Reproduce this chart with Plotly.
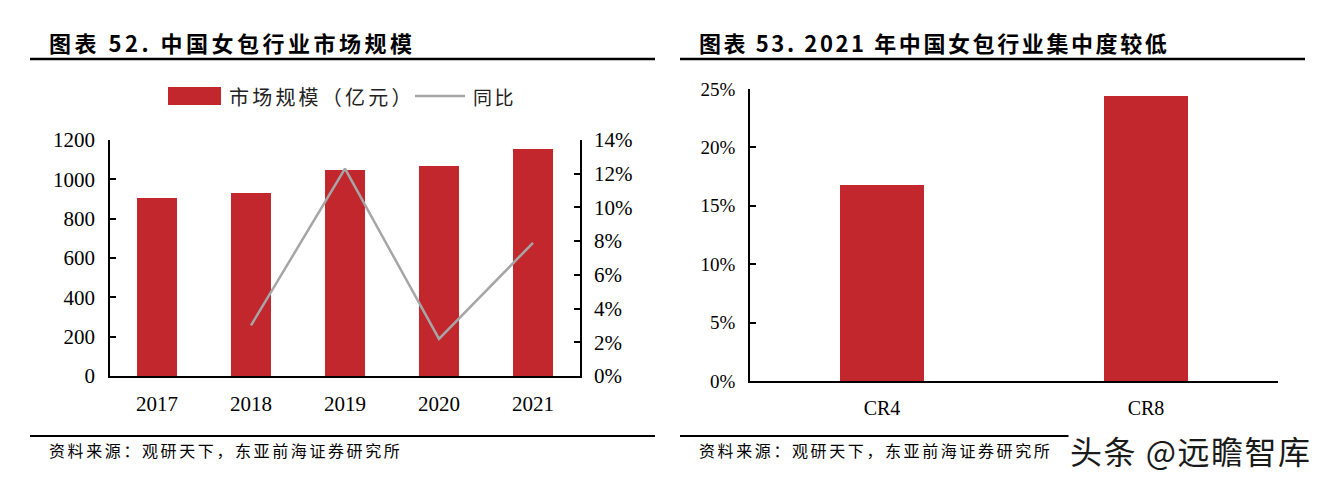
import plotly.graph_objects as go

# ---- data ----
years = ["2017", "2018", "2019", "2020", "2021"]
market_size = [905, 933, 1046, 1070, 1152]          # 市场规模（亿元）
yoy_years = ["2018", "2019", "2020", "2021"]
yoy = [0.030, 0.123, 0.022, 0.079]                 # 同比
cr_labels = ["CR4", "CR8"]
cr_values = [0.168, 0.244]

title_left = "图表 52. 中国女包行业市场规模"
title_right = "图表 53. 2021 年中国女包行业集中度较低"
source_text = "资料来源：观研天下，东亚前海证券研究所"
legend_bar = "市场规模（亿元）"
legend_line = "同比"
watermark = "头条 @远瞻智库"

# ---- style ----
W, H = 1326, 481
RED = "#C1272D"
GREY = "#A6A6A6"
SERIF = "Liberation Serif, Times New Roman, serif"
CJK = "Noto Sans CJK SC, sans-serif"


def px(x):
    return x / W


def py(y):
    return 1 - y / H


def spaced(text, sp):
    return '<span style="letter-spacing:%spx">%s</span>' % (sp, text)


fig = go.Figure()
fig.add_trace(go.Bar(x=years, y=market_size, marker=dict(color=RED, line=dict(width=0)),
                     width=0.43, xaxis="x", yaxis="y", showlegend=False))
fig.add_trace(go.Scatter(x=yoy_years, y=yoy, mode="lines", line=dict(color=GREY, width=2.5),
                         xaxis="x", yaxis="y2", showlegend=False))
fig.add_trace(go.Bar(x=cr_labels, y=cr_values, marker=dict(color=RED, line=dict(width=0)),
                     width=0.32, xaxis="x2", yaxis="y3", showlegend=False))

axis_common = dict(showline=True, linecolor="black", linewidth=1.6, showgrid=False,
                   zeroline=False, mirror=False, automargin=False)

fig.update_layout(
    width=W, height=H, autosize=False,
    margin=dict(l=0, r=0, t=0, b=0, pad=0, autoexpand=False),
    paper_bgcolor="white", plot_bgcolor="white",
    bargap=0,
    xaxis=dict(domain=[px(110), px(580)], anchor="y", type="category", range=[-0.5, 4.5],
               ticks="", tickfont=dict(family=SERIF, size=21, color="black"),
               ticklabelstandoff=8, **axis_common),
    yaxis=dict(domain=[py(376), py(140)], anchor="x", range=[0, 1200], dtick=200,
               ticks="inside", ticklen=6, tickcolor="black", tickwidth=1.5,
               tickfont=dict(family=SERIF, size=21, color="black"),
               ticklabelstandoff=9, **axis_common),
    yaxis2=dict(overlaying="y", side="right", anchor="x", range=[0, 0.14], dtick=0.02,
                tickformat=".0%", ticks="inside", ticklen=6, tickcolor="black", tickwidth=1.5,
                tickfont=dict(family=SERIF, size=21, color="black"),
                ticklabelstandoff=8, **axis_common),
    xaxis2=dict(domain=[px(750), px(1278)], anchor="y3", type="category", range=[-0.5, 1.5],
                ticks="", tickfont=dict(family=SERIF, size=20, color="black"),
                ticklabelstandoff=8, **axis_common),
    yaxis3=dict(domain=[py(381), py(89)], anchor="x2", range=[0, 0.25], dtick=0.05,
                tickformat=".0%", ticks="inside", ticklen=6, tickcolor="black", tickwidth=1.5,
                tickfont=dict(family=SERIF, size=19, color="black"),
                ticklabelstandoff=9, **axis_common),
)

shapes = []
# title underlines and bottom rules
for x0, x1 in [(30, 655), (680, 1305)]:
    shapes.append(dict(type="line", xref="paper", yref="paper", x0=px(x0), x1=px(x1),
                       y0=py(59), y1=py(59), line=dict(color="black", width=2.5)))
    shapes.append(dict(type="line", xref="paper", yref="paper", x0=px(x0), x1=px(x1),
                       y0=py(436), y1=py(436), line=dict(color="black", width=2)))
# custom legend markers
shapes.append(dict(type="rect", xref="paper", yref="paper", x0=px(168), x1=px(221),
                   y0=py(105), y1=py(87), fillcolor=RED, line=dict(width=0)))
shapes.append(dict(type="line", xref="paper", yref="paper", x0=px(415), x1=px(465),
                   y0=py(96), y1=py(96), line=dict(color=GREY, width=2.5)))
fig.update_layout(shapes=shapes)

ann = []
ann.append(dict(text="<b>" + spaced(title_left, 3.5) + "</b>", x=px(47), y=py(42),
                xref="paper", yref="paper", xanchor="left", yanchor="middle", showarrow=False,
                font=dict(family=CJK, size=22, color="black")))
ann.append(dict(text="<b>" + spaced(title_right, 2.6) + "</b>", x=px(697), y=py(42),
                xref="paper", yref="paper", xanchor="left", yanchor="middle", showarrow=False,
                font=dict(family=CJK, size=22, color="black")))
ann.append(dict(text=spaced(legend_bar, 3.2), x=px(227), y=py(96), xref="paper", yref="paper",
                xanchor="left", yanchor="middle", showarrow=False,
                font=dict(family=CJK, size=20, color="#222")))
ann.append(dict(text=spaced(legend_line, 2.5), x=px(471), y=py(96), xref="paper", yref="paper",
                xanchor="left", yanchor="middle", showarrow=False,
                font=dict(family=CJK, size=19, color="#222")))
for x in (47, 697):
    ann.append(dict(text=spaced(source_text, 2.6), x=px(x), y=py(450), xref="paper", yref="paper",
                    xanchor="left", yanchor="middle", showarrow=False,
                    font=dict(family=CJK, size=16, color="black")))
ann.append(dict(text=spaced(watermark, 1.5), x=px(1313), y=py(450), xref="paper", yref="paper",
                xanchor="right", yanchor="middle", showarrow=False, bgcolor="white",
                font=dict(family=CJK, size=32, color="#1a1a1a")))
fig.update_layout(annotations=ann)

fig.write_html("out.html", config={"displayModeBar": False},
               post_script="document.body.style.margin='0';document.body.style.overflow='hidden';")
